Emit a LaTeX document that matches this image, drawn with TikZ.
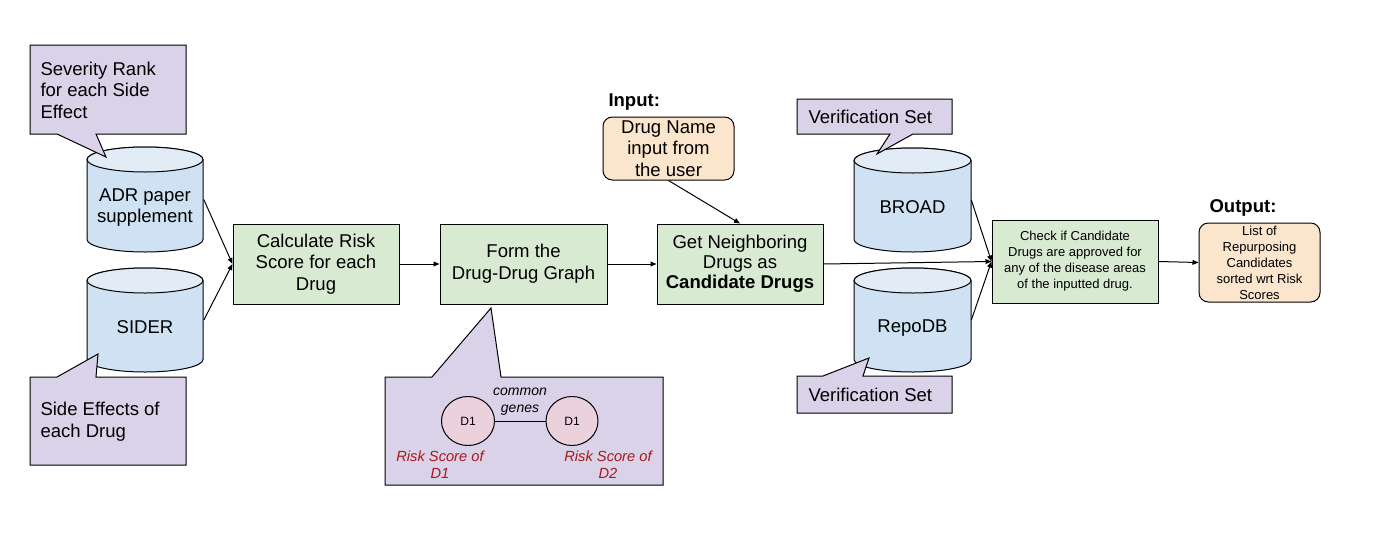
\documentclass[tikz,border=0pt]{standalone}
\usepackage{fontspec}
\setmainfont{Liberation Sans}
\usetikzlibrary{arrows.meta,shapes.geometric}
\definecolor{cpurple}{HTML}{D9D2E9}
\definecolor{cgreen}{HTML}{D9EAD3}
\definecolor{corange}{HTML}{FCE5CD}
\definecolor{cblue}{HTML}{CFE2F3}
\definecolor{cbluetop}{HTML}{E2ECF7}
\definecolor{cpink}{HTML}{EAD1DC}
\definecolor{cred}{HTML}{A81818}
\newcommand{\mfont}{\fontsize{13.9}{16.2}\selectfont}
\newcommand{\sfont}{\fontsize{9.75}{12}\selectfont}
\newcommand{\dbcyl}[4]{%
  \filldraw[fill=cblue] ({#1-#4},{#2+12.5}) -- ({#1-#4},{#3-12.5})
    arc[start angle=180,end angle=360,x radius={#4*0.75pt},y radius=9.375pt]
    -- ({#1+#4},{#2+12.5})
    arc[start angle=0,end angle=180,x radius={#4*0.75pt},y radius=9.375pt] -- cycle;
  \filldraw[fill=cbluetop] (#1,{#2+12.5}) ellipse[x radius={#4*0.75pt},y radius=9.375pt];
}
\begin{document}
\begin{tikzpicture}[x=0.75pt,y=-0.75pt,line width=0.75pt,
  box/.style={draw,fill=cgreen,align=center,inner sep=0pt,font=\mfont,
    minimum width=124.5pt,minimum height=60pt},
  rbox/.style={draw,fill=corange,align=center,inner sep=0pt,rounded corners=7pt},
  ghost/.style={inner sep=0pt,minimum width=87.5pt,minimum height=78.75pt},
  arr/.style={-{Triangle[length=4.5pt,width=3.6pt]}},
  call/.style={draw,fill=cpurple},
  redtxt/.style={text=cred,font=\fontsize{11}{12.75}\selectfont\itshape,align=center,inner sep=0pt}]
\useasboundingbox (0,0) rectangle (1377,539);
\fill[white] (0,0) rectangle (1377,539);

% cylinders
\dbcyl{145}{147}{252}{58}
\dbcyl{145}{268}{372}{58}
\dbcyl{912.5}{148}{252}{58.5}
\dbcyl{912.5}{268}{372}{58.5}
\node[ghost] (adr) at (145,199.5) {};
\node[ghost] (sider) at (145,320) {};
\node[ghost] (broad) at (912.5,200) {};
\node[ghost] (repo) at (912.5,320) {};
\node[font=\mfont,align=center,inner sep=0pt] (adrlbl) at (145,207.5) {ADR paper\\supplement};
\node[font=\mfont,inner sep=0pt] (siderlbl) at (145,327) {SIDER};
\node[font=\mfont,inner sep=0pt] (broadlbl) at (912.5,207) {BROAD};
\node[font=\mfont,inner sep=0pt] (repolbl) at (912.5,328) {RepoDB};

% callouts
\draw[call] (30,45) -- (186,45) -- (186,134) -- (96,134) -- (106,157) -- (57,134) -- (30,134) -- cycle;
\node[anchor=west,align=left,font=\mfont,inner sep=0pt] (sev) at (40,90) {Severity Rank\\for each Side\\Effect};
\draw[call] (30,377) -- (57,377) -- (98,354) -- (96,377) -- (186,377) -- (186,465) -- (30,465) -- cycle;
\node[anchor=west,align=left,font=\mfont,inner sep=0pt] (sidefx) at (40,421.5) {Side Effects of\\each Drug};
\draw[call] (797,99) -- (952,99) -- (952,134) -- (913,134) -- (877,154) -- (890,134) -- (797,134) -- cycle;
\node[anchor=west,font=\mfont,inner sep=0pt] (ver1) at (808,116.5) {Verification Set};
\draw[call] (797,376) -- (823,376) -- (869,358) -- (863,376) -- (952,376) -- (952,413) -- (797,413) -- cycle;
\node[anchor=west,font=\mfont,inner sep=0pt] (ver2) at (808,395) {Verification Set};
\draw[call] (385,377) -- (432,377) -- (491,308) -- (501,377) -- (663,377) -- (663,485) -- (385,485) -- cycle;

% graph inside callout
\node[ellipse,draw,fill=cpink,minimum width=39.75pt,minimum height=36.75pt,inner sep=0pt,font=\fontsize{9}{11}\selectfont] (d1) at (468,421) {D1};
\node[ellipse,draw,fill=cpink,minimum width=39pt,minimum height=36.75pt,inner sep=0pt,font=\fontsize{9}{11}\selectfont] (d2) at (572,421) {D1};
\draw (d1) -- (d2);
\node[font=\fontsize{10.5}{12.75}\selectfont\itshape,align=center,inner sep=0pt] (cg) at (520,401.5) {common\\genes};
\node[redtxt] (rs1) at (440,464.5) {Risk Score of\\D1};
\node[redtxt] (rs2) at (608,464.5) {Risk Score of\\D2};

% main boxes
\node[box] (calc) at (316,264) {Calculate Risk\\Score for each\\Drug};
\node[box,minimum width=125.25pt] (form) at (523.5,264) {Form the\\Drug-Drug Graph};
\node[box,font=\fontsize{13.9}{15}\selectfont] (get) at (740,264) {Get Neighboring\\Drugs as\\\textbf{Candidate Drugs}};
\node[box,font=\sfont,minimum height=62.25pt] (check) at (1075,261.5) {Check if Candidate\\Drugs are approved for\\any of the disease areas\\of the inputted drug.};
\node[rbox,font=\mfont,minimum width=98.25pt,minimum height=47.25pt] (input) at (668.5,148.5) {Drug Name\\input from\\the user};
\node[anchor=west,font=\mfont\bfseries,inner sep=0pt] (inlbl) at (608,102) {Input:};
\node[rbox,font=\sfont,minimum width=90.75pt,minimum height=59.25pt] (out) at (1259.5,262.5) {List of\\Repurposing\\Candidates\\sorted wrt Risk\\Scores};
\node[anchor=west,font=\mfont\bfseries,inner sep=0pt] (outlbl) at (1209,208) {Output:};

% connectors
\draw[arr] (adr.east) -- (calc.west);
\draw[arr] (sider.east) -- (calc.west);
\draw[arr] (calc) -- (form);
\draw[arr] (form) -- (get);
\draw[arr] (input.south) -- (get.north);
\draw[arr] (get.east) -- (check.west);
\draw[arr] (broad.east) -- (check.west);
\draw[arr] (repo.east) -- (check.west);
\draw[arr] (check.east) -- (out.west);
\end{tikzpicture}
\end{document}
